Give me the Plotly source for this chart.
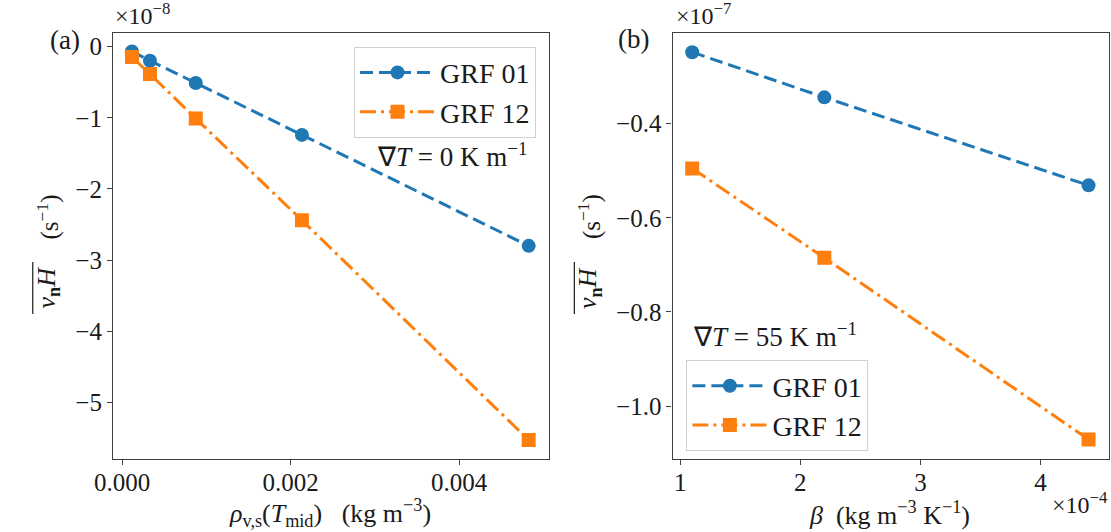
import plotly.graph_objects as go

# Panel (a) data: x in kg m^-3, y in units of 1e-8 s^-1
rho_vs = [0.000116, 0.00033, 0.000874, 0.002134, 0.004826]
grf01_a = [-0.066, -0.197, -0.51, -1.24, -2.80]
grf12_a = [-0.145, -0.384, -1.01, -2.44, -5.53]

# Panel (b) data: x in units of 1e-4 kg m^-3 K^-1, y in units of 1e-7 s^-1
beta = [1.1, 2.2, 4.4]
grf01_b = [-0.248, -0.344, -0.531]
grf12_b = [-0.495, -0.685, -1.071]

series_names = ["GRF 01", "GRF 12"]

xticks_a = [0.0, 0.002, 0.004]
xticklabels_a = ["0.000", "0.002", "0.004"]
yticks_a = [0, -1, -2, -3, -4, -5]
xticks_b = [1, 2, 3, 4]
yticks_b = [-0.4, -0.6, -0.8, -1.0]
yticklabels_b = ["\u22120.4", "\u22120.6", "\u22120.8", "\u22121.0"]

BLUE = "#1f77b4"
ORANGE = "#ff7f0e"
FONT = "Liberation Serif"
TXT = "#1a1a1a"
W, H = 1111, 532

def px(x):
    return x / W

def py(y):
    return 1 - y / H

fig = go.Figure()

def add(x, y, name, color, dash, symbol, xa, ya, legend):
    fig.add_trace(go.Scatter(
        x=x, y=y, name=name, mode="lines+markers",
        line=dict(color=color, width=3, dash=dash),
        marker=dict(symbol=symbol, size=14, color=color),
        xaxis=xa, yaxis=ya, legend=legend, showlegend=True))

DASH = "13px,6px"
DASHDOT = "16px,5px,3px,5px"
add(rho_vs, grf01_a, series_names[0], BLUE, DASH, "circle", "x", "y", "legend")
add(rho_vs, grf12_a, series_names[1], ORANGE, DASHDOT, "square", "x", "y", "legend")
add(beta, grf01_b, series_names[0], BLUE, DASH, "circle", "x2", "y2", "legend2")
add(beta, grf12_b, series_names[1], ORANGE, DASHDOT, "square", "x2", "y2", "legend2")

axis_common = dict(showgrid=False, zeroline=False, showline=True, mirror=True,
                   linecolor="#404040", linewidth=1.3, ticks="outside", ticklen=5,
                   tickcolor="#404040", tickfont=dict(family=FONT, size=25, color=TXT))

YDOM = [py(459), py(32.7)]

legend_common = dict(bgcolor="rgba(255,255,255,0.8)", bordercolor="#d0d0d0", borderwidth=1,
                     font=dict(family=FONT, size=28, color=TXT), itemwidth=75,
                     tracegroupgap=0)

fig.update_layout(
    width=W, height=H,
    margin=dict(l=0, r=0, t=0, b=0),
    paper_bgcolor="white", plot_bgcolor="white",
    font=dict(family=FONT, size=24, color=TXT),
    xaxis=dict(domain=[px(95.7), px(539.3)], range=[-0.000108, 0.005068],
               tickvals=xticks_a, ticktext=xticklabels_a, anchor="y",
               ticklabelstandoff=-4, **axis_common),
    yaxis=dict(domain=YDOM, range=[-5.797, 0.197], tickvals=yticks_a,
               anchor="x", **axis_common),
    xaxis2=dict(domain=[px(665), px(1109.3)], range=[0.937, 4.573], tickvals=xticks_b,
                anchor="y2", ticklabelstandoff=-4, **axis_common),
    yaxis2=dict(domain=YDOM, range=[-1.1126, -0.2066],
                tickvals=yticks_b, ticktext=yticklabels_b,
                anchor="x2", **axis_common),
    legend=dict(x=px(526), xanchor="right", y=py(46.7), yanchor="top", **legend_common),
    legend2=dict(x=px(679), xanchor="left", y=py(360), yanchor="top", **legend_common),
)

vnH = "<i>v</i><sub><b>n</b></sub><i>H</i>"
s_unit = "(s<sup>−1</sup>)"

def ann(text, x, y, size, xanchor="center", yanchor="middle", angle=0):
    return dict(text=text, x=px(x), y=py(y), xref="paper", yref="paper", textangle=angle,
                xanchor=xanchor, yanchor=yanchor, showarrow=False, font=dict(size=size))

annotations = [
    # y-axis titles (rotated annotations so the overline can be drawn)
    ann(vnH, 29, 288, 26, angle=-90),
    ann(s_unit, 29, 217, 25, angle=-90),
    ann(vnH, 580, 288, 26, angle=-90),
    ann(s_unit, 580, 217, 25, angle=-90),
    # x-axis titles
    ann("<i>ρ</i><sub>v,s</sub>(<i>T</i><sub>mid</sub>)   (kg m<sup>−3</sup>)", 316, 513, 26),
    ann("<i>β</i>  (kg m<sup>−3</sup> K<sup>−1</sup>)", 886, 513, 26),
    # offset texts
    ann("×10<sup>−8</sup>", 96, 31, 24, xanchor="left", yanchor="bottom"),
    ann("×10<sup>−7</sup>", 666, 31, 24, xanchor="left", yanchor="bottom"),
    ann("×10<sup>−4</sup>", 1110, 503, 24, xanchor="right"),
    # panel labels
    ann("(a)", 47, 40, 27),
    ann("(b)", 625, 39, 27),
    # gradient labels
    ann("∇<i>T</i> = 0 K m<sup>−1</sup>", 519, 155, 27, xanchor="right"),
    ann("∇<i>T</i> = 55 K m<sup>−1</sup>", 684, 335, 27, xanchor="left"),
]
fig.update_layout(annotations=annotations)

# overline of the mean quantity in the y-axis titles
for xo in (14, 565):
    fig.add_shape(type="line", xref="paper", yref="paper",
                  x0=px(xo), x1=px(xo), y0=py(262), y1=py(314),
                  line=dict(color=TXT, width=1.2))

fig.write_html(
    "out.html",
    config={"displayModeBar": False},
    post_script="document.documentElement.style.margin='0';"
                "document.body.style.margin='0';"
                "document.body.style.overflow='hidden';",
)
